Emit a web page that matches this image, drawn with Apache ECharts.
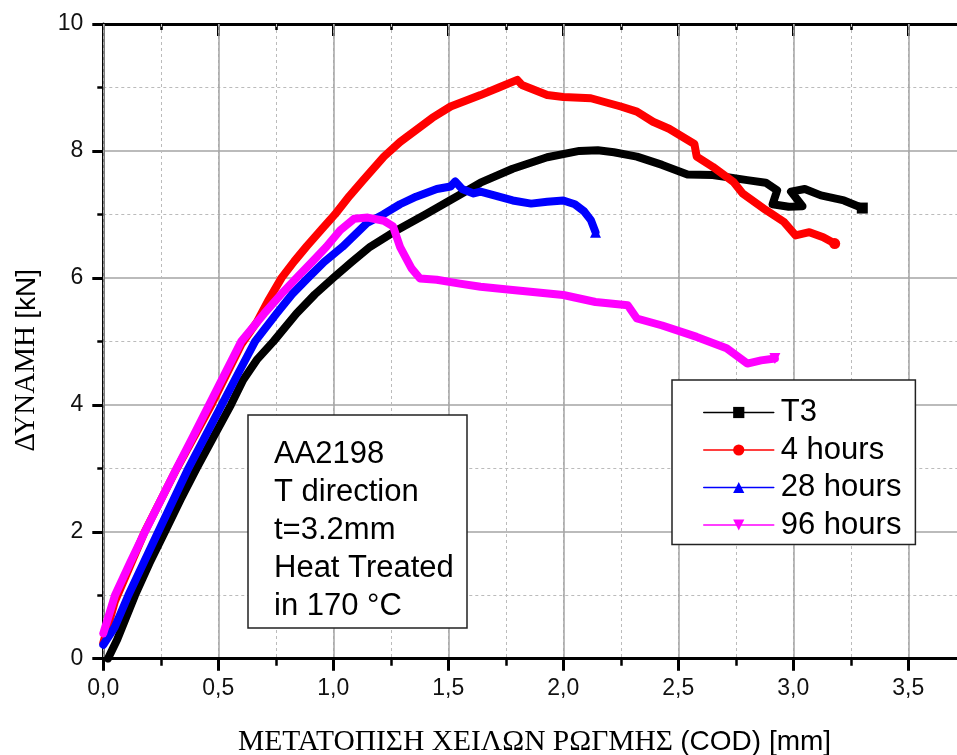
<!DOCTYPE html>
<html>
<head>
<meta charset="utf-8">
<script src="https://cdn.jsdelivr.net/npm/echarts@6.0.0/dist/echarts.min.js"></script>
<style>
html,body{margin:0;padding:0;background:#fff;}
#chart{width:957px;height:755px;}
</style>
</head>
<body>
<div id="chart"></div>
<script>
// ---- data (COD [mm], force [kN]) ----
const seriesNames = ['T3', '4 hours', '28 hours', '96 hours'];
const seriesColors = ['#000000', '#ff0000', '#0000ff', '#ff00ff'];

const t3 = [[0.02,0.0],[0.06,0.3],[0.138,1.0],[0.2,1.5],[0.268,2.0],[0.335,2.5],[0.406,3.0],[0.48,3.5],[0.555,4.0],[0.608,4.39],[0.67,4.72],[0.74,5.0],[0.84,5.44],[0.92,5.74],[1.0,6.0],[1.08,6.25],[1.16,6.49],[1.28,6.76],[1.40,7.0],[1.55,7.31],[1.64,7.5],[1.78,7.72],[1.93,7.9],[2.07,8.0],[2.15,8.01],[2.22,7.98],[2.32,7.91],[2.43,7.78],[2.54,7.63],[2.65,7.62],[2.80,7.54],[2.88,7.5],[2.93,7.38],[2.91,7.16],[2.98,7.12],[3.04,7.13],[2.99,7.36],[3.05,7.4],[3.12,7.3],[3.22,7.22],[3.30,7.10]];

const h4 = [[0.0,0.25],[0.05,0.9],[0.18,2.0],[0.32,3.0],[0.47,4.0],[0.6,4.95],[0.667,5.3],[0.72,5.66],[0.775,6.0],[0.83,6.26],[0.885,6.5],[0.95,6.77],[1.007,7.0],[1.07,7.29],[1.13,7.54],[1.22,7.91],[1.29,8.14],[1.36,8.33],[1.43,8.52],[1.51,8.70],[1.64,8.88],[1.72,9.0],[1.80,9.12],[1.82,9.04],[1.93,8.88],[2.0,8.85],[2.12,8.83],[2.25,8.70],[2.32,8.62],[2.39,8.46],[2.46,8.35],[2.57,8.11],[2.58,7.91],[2.65,7.75],[2.74,7.51],[2.78,7.33],[2.88,7.07],[2.96,6.88],[3.01,6.67],[3.07,6.72],[3.13,6.64],[3.18,6.54]];

const h28 = [[0.0,0.22],[0.05,0.5],[0.109,1.0],[0.239,2.0],[0.37,3.0],[0.515,4.0],[0.58,4.45],[0.66,5.0],[0.754,5.44],[0.82,5.74],[0.89,6.0],[0.96,6.25],[1.04,6.49],[1.145,6.86],[1.217,7.0],[1.29,7.16],[1.36,7.28],[1.45,7.4],[1.51,7.44],[1.53,7.52],[1.56,7.4],[1.61,7.33],[1.64,7.36],[1.72,7.28],[1.78,7.22],[1.86,7.17],[1.93,7.2],[2.0,7.22],[2.05,7.16],[2.09,7.05],[2.12,6.91],[2.14,6.72]];

const h96 = [[0.0,0.40],[0.051,1.0],[0.115,1.5],[0.181,2.0],[0.25,2.5],[0.319,3.0],[0.39,3.5],[0.46,4.0],[0.53,4.5],[0.60,5.0],[0.70,5.44],[0.77,5.73],[0.84,6.0],[0.91,6.26],[0.97,6.49],[1.03,6.75],[1.09,6.93],[1.15,6.95],[1.22,6.9],[1.26,6.81],[1.29,6.49],[1.34,6.15],[1.377,5.99],[1.45,5.97],[1.55,5.91],[1.64,5.86],[1.78,5.81],[2.0,5.73],[2.14,5.62],[2.28,5.57],[2.32,5.36],[2.43,5.25],[2.58,5.07],[2.71,4.89],[2.80,4.65],[2.86,4.70],[2.92,4.73]];

const infoLines = ['AA2198', 'T direction', 't=3.2mm', 'Heat Treated', 'in 170 °C'];
const xTitleGreek = 'ΜΕΤΑΤΟΠΙΣΗ ΧΕΙΛΩΝ ΡΩΓΜΗΣ ';
const xTitleLatin = '(COD) [mm]';
const yTitleGreek = 'ΔΥΝΑΜΗ ';
const yTitleLatin = '[kN]';

const X_MIN = 0, X_MAX = 3.75, X_MAJOR = 0.5, X_MINOR = 0.25;
const Y_MIN = 0, Y_MAX = 10, Y_MAJOR = 2;

// ---- chart ----
const SANS = "'Liberation Sans', Arial, sans-serif";
const SERIF = "'Liberation Serif', 'Times New Roman', serif";
const chart = echarts.init(document.getElementById('chart'), null, {renderer: 'canvas'});

function xLabel(v) {
  const k = v / X_MAJOR;
  if (Math.abs(k - Math.round(k)) > 1e-6) return '';
  return v.toFixed(1).replace('.', ',');
}

const dataSets = [t3, h4, h28, h96];
const symbols = ['rect', 'circle', 'triangle', 'triangle'];
const rotates = [0, 0, 0, 180];

const option = {
  backgroundColor: '#ffffff',
  animation: false,
  grid: {left: 103.3, top: 24, bottom: 96.3, right: 957 - 103.3 - 230 * X_MAX,
         containLabel: false, outerBoundsMode: 'none'},
  title: {
    text: infoLines.join('\n'),
    left: 248, top: 415,
    padding: [20, 13, 3, 26],
    borderColor: '#222', borderWidth: 1.5,
    backgroundColor: '#ffffff',
    textStyle: {fontFamily: SANS, fontSize: 31, fontWeight: 'normal', color: '#000', lineHeight: 38}
  },
  legend: {
    orient: 'vertical',
    left: 672, top: 380,
    padding: [17, 14, 4, 31],
    itemGap: 6.5,
    itemWidth: 70, itemHeight: 14,
    borderColor: '#222', borderWidth: 1.5,
    backgroundColor: '#ffffff',
    lineStyle: {width: 1.5},
    textStyle: {fontFamily: SANS, fontSize: 31, color: '#000', padding: [0, 0, 0, 2]},
    data: seriesNames
  },
  xAxis: [
    {
      type: 'value', position: 'bottom', min: X_MIN, max: X_MAX, interval: X_MAJOR,
      axisLine: {show: true, onZero: false, lineStyle: {color: '#000', width: 3}},
      axisTick: {show: true, inside: false, length: 12, lineStyle: {color: '#000', width: 3}},
      axisLabel: {formatter: xLabel, fontFamily: SANS, fontSize: 23, color: '#111', margin: 18},
      splitLine: {show: true, lineStyle: {color: '#a5a5a5', width: 1.5}},
      name: '{g|' + xTitleGreek + '}{s|' + xTitleLatin + '}',
      nameLocation: 'middle', nameGap: 69,
      nameTextStyle: {rich: {
        g: {fontFamily: SERIF, fontSize: 29.5, color: '#000'},
        s: {fontFamily: SANS, fontSize: 28, color: '#000'}
      }},
      z: 3
    },
    {
      type: 'value', position: 'bottom', min: X_MIN, max: X_MAX, interval: X_MINOR,
      axisLine: {show: false},
      axisTick: {show: true, inside: false, length: 7, lineStyle: {color: '#000', width: 2.5}},
      axisLabel: {show: false},
      splitLine: {show: true, lineStyle: {color: '#bbbbbb', width: 1, type: [3, 3]}},
      z: 2
    },
    {
      type: 'value', position: 'top', min: X_MIN, max: X_MAX, interval: X_MAJOR,
      axisLine: {show: true, onZero: false, lineStyle: {color: '#000', width: 3}},
      axisTick: {show: true, inside: true, length: 12, lineStyle: {color: '#000', width: 3}},
      axisLabel: {show: false},
      splitLine: {show: false}
    },
    {
      type: 'value', position: 'top', min: X_MIN, max: X_MAX, interval: X_MINOR,
      axisLine: {show: false},
      axisTick: {show: true, inside: true, length: 6, lineStyle: {color: '#000', width: 2.5}},
      axisLabel: {show: false},
      splitLine: {show: false}
    }
  ],
  yAxis: [
    {
      type: 'value', position: 'left', min: Y_MIN, max: Y_MAX, interval: Y_MAJOR,
      axisLine: {show: true, onZero: false, lineStyle: {color: '#000', width: 3}},
      axisTick: {show: true, inside: false, length: 11, lineStyle: {color: '#000', width: 3}},
      minorTick: {show: true, splitNumber: 2, length: 6, lineStyle: {color: '#000', width: 2.5}},
      axisLabel: {fontFamily: SANS, fontSize: 23, color: '#111', margin: 20},
      splitLine: {show: true, lineStyle: {color: '#a5a5a5', width: 1.5}},
      minorSplitLine: {show: true, lineStyle: {color: '#bbbbbb', width: 1, type: [3, 3]}},
      name: '{g|' + yTitleGreek + '}{s|' + yTitleLatin + '}',
      nameLocation: 'middle', nameGap: 62, nameRotate: 90,
      nameTextStyle: {
        padding: [0, 38, 0, 0],
        rich: {
          g: {fontFamily: SERIF, fontSize: 29, color: '#000'},
          s: {fontFamily: SANS, fontSize: 28, color: '#000'}
        }
      }
    }
  ],
  series: seriesNames.map((n, i) => ({
    name: n,
    type: 'line',
    xAxisIndex: 0, yAxisIndex: 0,
    data: dataSets[i],
    showSymbol: true,
    showAllSymbol: true,
    symbol: symbols[i],
    symbolRotate: rotates[i],
    symbolSize: (v, p) => (p.dataIndex === dataSets[i].length - 1 ? 11 : 0),
    smooth: false,
    color: seriesColors[i],
    itemStyle: {color: seriesColors[i]},
    lineStyle: {color: seriesColors[i], width: 8, join: 'round', cap: 'round'},
    z: 5 + i
  }))
};
chart.setOption(option);
</script>
</body>
</html>
